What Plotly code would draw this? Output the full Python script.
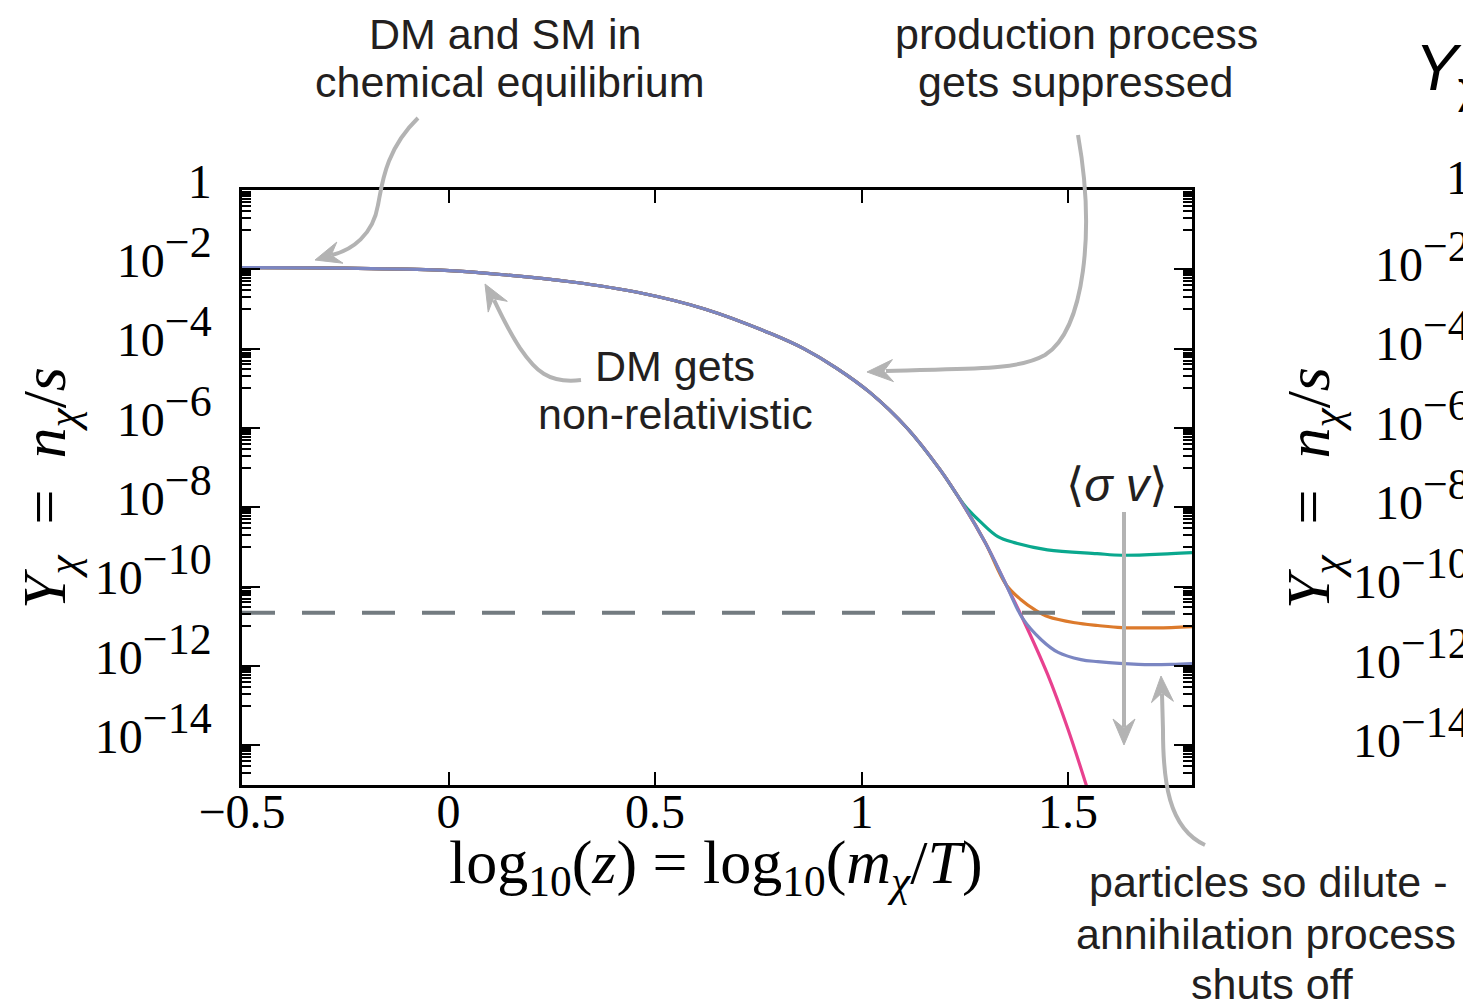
import math
import re
import plotly.graph_objects as go

# ---- data: log10(z) and comoving yield Y = n/s ----
# equilibrium yield
x_eq = [-0.5, -0.25, -0.02, 0.14, 0.30, 0.46, 0.62, 0.78, 0.86, 0.94, 1.02,
        1.11, 1.19, 1.25, 1.30, 1.35, 1.39, 1.45, 1.50, 1.55]
y_eq = [1.10e-2, 1.07e-2, 9.5e-3, 7.2e-3, 4.8e-3, 2.6e-3, 1.0e-3, 2.4e-4,
        1.0e-4, 3.2e-5, 7.9e-6, 1.0e-6, 8.9e-8, 1.0e-8, 1.26e-9, 1.12e-10,
        1.58e-11, 6.3e-13, 2.5e-14, 6.3e-16]

# freeze-out tails for three annihilation cross sections (small -> large)
x_small = [1.25, 1.29, 1.33, 1.37, 1.45, 1.57, 1.63, 1.75, 1.80]
y_small = [1.1e-8, 4.1e-9, 1.82e-9, 1.29e-9, 8.5e-10, 6.8e-10, 6.2e-10, 6.8e-10, 7.2e-10]

x_mid = [1.35, 1.386, 1.42, 1.452, 1.517, 1.572, 1.63, 1.75, 1.80]
y_mid = [1.12e-10, 4.7e-11, 2.6e-11, 1.74e-11, 1.23e-11, 1.05e-11, 9.3e-12, 9.3e-12, 9.8e-12]

x_large = [1.39, 1.435, 1.476, 1.531, 1.572, 1.67, 1.75, 1.80]
y_large = [1.58e-11, 4.6e-12, 2.2e-12, 1.45e-12, 1.29e-12, 1.1e-12, 1.1e-12, 1.15e-12]

# observed relic abundance level
y_relic = 2.2e-11

x_ticks = [-0.5, 0.0, 0.5, 1.0, 1.5]
x_ticklabels = ["\u22120.5", "0", "0.5", "1", "1.5"]
y_ticks = [1, 1e-2, 1e-4, 1e-6, 1e-8, 1e-10, 1e-12, 1e-14]
y_exponents = [2, 4, 6, 8, 10, 12, 14]
y_ticklabels = ["1"] + ["10<sup><span style='font-size:44px'>\u2212%d</span></sup>" % e
                        for e in y_exponents]

COL_EQ = "#e8418f"
COL_SMALL = "#0aa88e"
COL_MID = "#dc7a2c"
COL_LARGE = "#7b86c2"
COL_DASH = "#737b80"
COL_ARROW = "#b3b3b3"
TEXT = "#231f20"
SANS = "Liberation Sans, Arial, Helvetica, sans-serif"
SERIF = "Liberation Serif, Times New Roman, serif"

W, H = 1463, 1002
L, R, T, B = 242, 1192, 190, 785   # plot-area edges in pixels


def px(x):
    return (x - L) / (R - L)


def py(y):
    return (B - y) / (B - T)


def full_curve(xt, yt):
    xs = [a for a in x_eq if a < xt[0]] + xt
    ys = [b for a, b in zip(x_eq, y_eq) if a < xt[0]] + yt
    return xs, ys


fig = go.Figure()

fig.add_trace(go.Scatter(x=x_eq, y=y_eq, mode="lines",
                         line=dict(color=COL_EQ, width=3.2, shape="spline", smoothing=1.0),
                         hoverinfo="skip", showlegend=False))
for xt, yt, c in ((x_small, y_small, COL_SMALL), (x_mid, y_mid, COL_MID),
                  (x_large, y_large, COL_LARGE)):
    xs, ys = full_curve(xt, yt)
    fig.add_trace(go.Scatter(x=xs, y=ys, mode="lines",
                             line=dict(color=c, width=3.2, shape="spline", smoothing=1.0),
                             hoverinfo="skip", showlegend=False))

fig.add_trace(go.Scatter(x=[-0.5, 1.8], y=[y_relic, y_relic], mode="lines",
                         line=dict(color=COL_DASH, width=4, dash="33px,27px"),
                         hoverinfo="skip", showlegend=False))

# minor log ticks: one decade below each labelled power
minor_vals = [k * 10.0 ** e for e in range(-15, 0, 2) for k in range(1, 10)]

fig.update_xaxes(range=[-0.5, 1.8], tickvals=x_ticks, ticktext=x_ticklabels,
                 ticks="inside", ticklen=13, tickwidth=2, tickcolor="black",
                 showline=True, linewidth=2.5, linecolor="black", mirror="allticks",
                 showgrid=False, zeroline=False, ticklabelstandoff=-17,
                 tickfont=dict(family=SERIF, size=48, color="black"))
fig.update_yaxes(type="log", range=[-15, 0], tickvals=y_ticks, ticktext=y_ticklabels,
                 ticks="inside", ticklen=18, tickwidth=2, tickcolor="black",
                 showline=True, linewidth=2.5, linecolor="black", mirror="allticks",
                 showgrid=False, zeroline=False, ticklabelstandoff=18, ticklabelshift=-9,
                 tickfont=dict(family=SERIF, size=48, color="black"),
                 minor=dict(tickvals=minor_vals, ticks="inside", ticklen=9,
                            tickwidth=1.5, tickcolor="black", showgrid=False))

ann = []


def text(s, x, y, size=43, family=SANS, color=TEXT, xanchor="center", angle=0):
    ann.append(dict(text=s, x=px(x), y=py(y), xref="paper", yref="paper",
                    xanchor=xanchor, yanchor="middle", showarrow=False,
                    textangle=angle, font=dict(family=family, size=size, color=color)))


text("DM and SM in", 505, 34)
text("chemical equilibrium", 510, 82)
text("production process", 1076, 34)
text("gets suppressed", 1076, 82)
text("DM gets", 675, 366)
text("non-relativistic", 675, 414)
text("\u27e8<i>\u03c3 v</i>\u27e9", 1117, 484, size=47,
     family="Liberation Sans, DejaVu Sans, sans-serif")
text("particles so dilute -", 1268, 882)
text("annihilation process", 1266, 934)
text("shuts off", 1272, 984)

ylabel = ("<i>Y</i><sub><i>\u03c7</i></sub>\u2002=\u2002"
          "<i>n</i><sub><i>\u03c7</i></sub>/<i>s</i>")
text(ylabel, 48, 488, size=62, family=SERIF, color="black", angle=-90)
text("log<sub>10</sub>(<i>z</i>) = log<sub>10</sub>(<i>m</i><sub><i>\u03c7</i></sub>/<i>T</i>)",
     716, 866, size=62, family=SERIF, color="black")

# neighbouring panel (continues beyond the right edge)
text(ylabel, 1312, 488, size=62, family=SERIF, color="black", angle=-90)
text("<i>Y</i><sub>\u03c7</sub>", 1413, 72, size=64, xanchor="left", color="black")
for v, lab in zip(y_ticks, y_ticklabels):
    ann.append(dict(text=lab, x=px(1472), y=math.log10(v), xref="paper", yref="y",
                    xanchor="right", yanchor="middle", showarrow=False, yshift=13,
                    font=dict(family=SERIF, size=48, color="black")))

# grey annotation arrows: (curve path in pixels, end point, tip)
arrows = [
    ("M418,118 C385,150 382,185 378,205 C373,235 352,250 332,255", (332, 255), (315, 260)),
    ("M581,380 C548,384 535,370 520,348 C508,330 500,312 494,300", (494, 300), (485, 284)),
    ("M1078,135 C1095,230 1085,330 1045,355 C1015,372 960,368 886,371", (886, 371), (867, 372)),
    ("M1124,512 L1124,727", (1124, 727), (1124, 745)),
    ("M1205,845 C1168,828 1163,780 1163,730 L1162,694", (1162, 694), (1161, 676)),
]


def to_paper_path(p):
    toks = re.findall(r"[A-Za-z]|-?\d+(?:\.\d+)?", p)
    res = []
    i = 0
    while i < len(toks):
        t = toks[i]
        if t.isalpha():
            res.append(t)
            i += 1
        else:
            xv, yv = float(toks[i]), float(toks[i + 1])
            res.append("%.5f,%.5f" % (px(xv), py(yv)))
            i += 2
    return " ".join(res)


shapes = []
for path, end, tip in arrows:
    shapes.append(dict(type="path", xref="paper", yref="paper", path=to_paper_path(path),
                       line=dict(color=COL_ARROW, width=4), fillcolor="rgba(0,0,0,0)",
                       layer="above"))
    dx, dy = tip[0] - end[0], tip[1] - end[1]
    n = math.hypot(dx, dy)
    ux, uy = dx / n, dy / n
    vx, vy = -uy, ux
    hl, hw = 26, 11
    bx, by = tip[0] - ux * hl, tip[1] - uy * hl
    nx_, ny_ = tip[0] - ux * hl * 0.65, tip[1] - uy * hl * 0.65
    head = "M%.1f,%.1f L%.1f,%.1f L%.1f,%.1f L%.1f,%.1f Z" % (
        tip[0], tip[1], bx + vx * hw, by + vy * hw, nx_, ny_, bx - vx * hw, by - vy * hw)
    shapes.append(dict(type="path", xref="paper", yref="paper", path=to_paper_path(head),
                       line=dict(color=COL_ARROW, width=1), fillcolor=COL_ARROW,
                       layer="above"))

fig.update_layout(width=W, height=H,
                  margin=dict(l=L, r=W - R, t=T, b=H - B, autoexpand=False),
                  paper_bgcolor="white", plot_bgcolor="white",
                  annotations=ann, shapes=shapes, showlegend=False)

fig.write_html("out.html")
